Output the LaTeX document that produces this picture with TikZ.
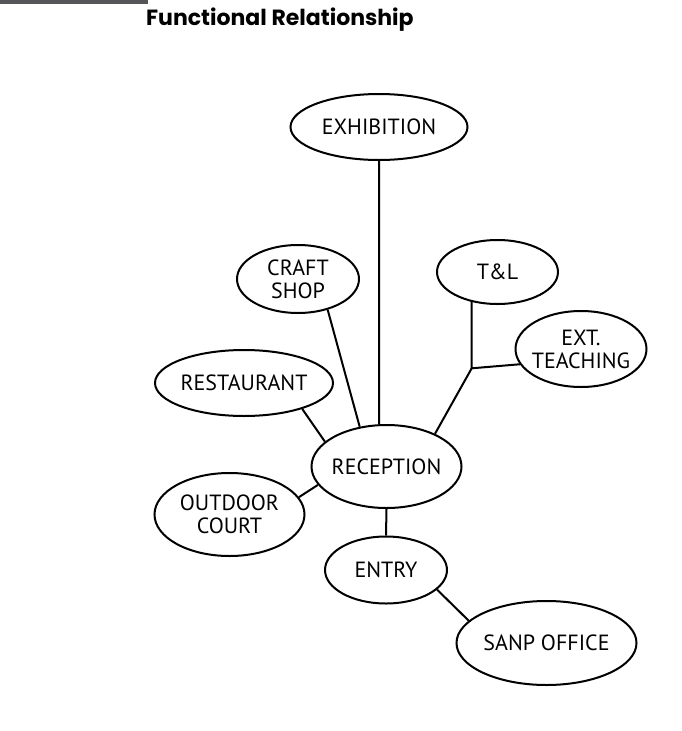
\documentclass[tikz,border=0pt]{standalone}
\usepackage{fontspec}
\setmainfont{PT Sans}
\newfontfamily\titlefont{Poppins}
\usetikzlibrary{shapes.geometric,backgrounds}
\definecolor{barcol}{RGB}{85,85,90}
\tikzset{
  bub/.style={draw=black, fill=white, line width=2pt, ellipse, inner sep=-12pt, align=center,
    font=\fontsize{22}{23}\selectfont},
  link/.style={draw=black, line width=2pt}
}
\begin{document}
\begin{tikzpicture}[x=1pt,y=-1pt]
\useasboundingbox (0,0) rectangle (682,731);
\fill[barcol] (0,0) rectangle (148,4);
\node[anchor=base west, inner sep=0pt, font=\titlefont\bfseries\fontsize{22}{24}\selectfont] (title) at (146,25) {Functional Relationship};

\node[bub, minimum width=177pt, minimum height=66pt] (exh) at (379,127) {EXHIBITION};
\node[bub, minimum width=122pt, minimum height=68pt] (craft) at (298,279) {CRAFT\\SHOP};
\node[bub, minimum width=121pt, minimum height=64pt] (tl) at (497.5,272) {T\&L};
\node[bub, minimum width=131pt, minimum height=76pt] (ext) at (581,349) {EXT.\\TEACHING};
\node[bub, minimum width=178pt, minimum height=66pt] (rest) at (244,383) {RESTAURANT};
\node[bub, minimum width=150pt, minimum height=83pt] (rec) at (386.5,466.5) {RECEPTION};
\node[bub, minimum width=150pt, minimum height=83pt] (out) at (229.5,514.5) {OUTDOOR\\COURT};
\node[bub, minimum width=122pt, minimum height=67pt] (entry) at (386,570) {ENTRY};
\node[bub, minimum width=180pt, minimum height=84pt] (sanp) at (546.5,643) {SANP OFFICE};

\coordinate (j) at (471.7,368.3);

\begin{scope}[on background layer]
\draw[link] (exh.south) -- (rec.100.4);
\draw[link] (craft.314.7) -- (rec.124);
\draw[link] (rest.336.7) -- (rec.158.4);
\draw[link] (out.14.5) -- (rec.195.2);
\draw[link] (rec.270) -- (entry.90);
\draw[link] (entry.339.6) -- (sanp.164);
\draw[link] (j |- tl.center) -- (j) -- (ext.194.3);
\draw[link] (j) -- (rec.34.9);
\end{scope}
\end{tikzpicture}
\end{document}
